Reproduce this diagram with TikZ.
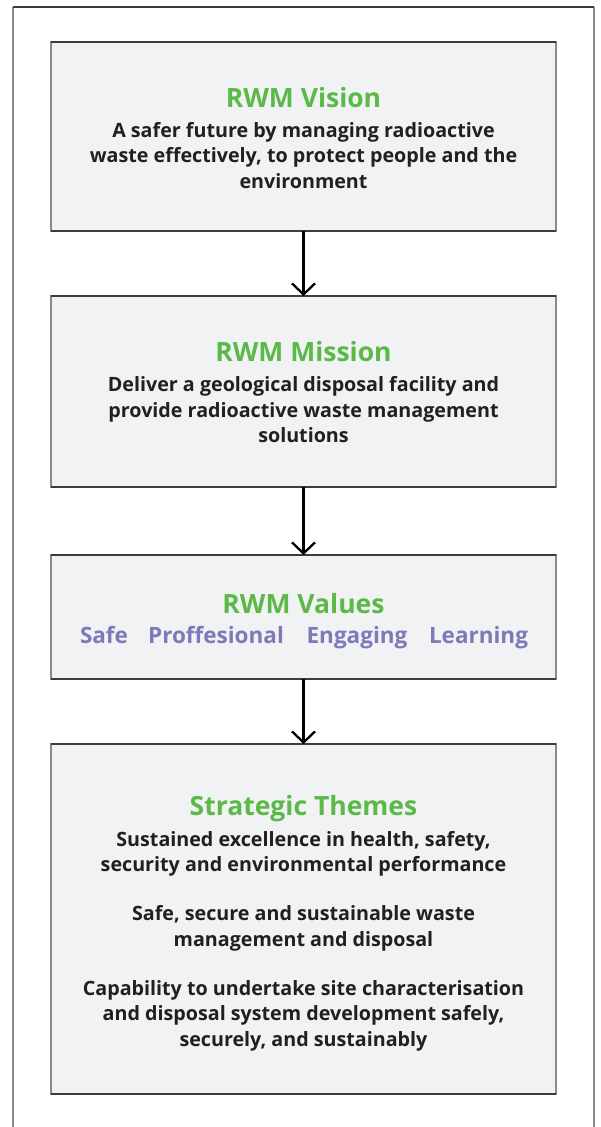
\documentclass[tikz,border=0pt]{standalone}
\usepackage{fontspec}
\setmainfont{Open Sans}
\usetikzlibrary{arrows.meta}
\definecolor{rwmgreen}{HTML}{5BB947}
\definecolor{rwmpurple}{HTML}{7F79BA}
\definecolor{txtdark}{HTML}{231F20}
\definecolor{boxfill}{HTML}{F1F2F4}
\definecolor{sidegray}{HTML}{8A8A8A}
\definecolor{edgedark}{HTML}{3C3C3C}
\begin{document}
\begin{tikzpicture}[x=1pt,y=-1pt,
  panel/.style={fill=boxfill, draw=sidegray, line width=1.3pt, minimum width=505pt, inner sep=0pt, outer sep=0pt},
  edge/.style={draw=edgedark, line width=1.3pt},
  title/.style={font=\fontsize{26.5}{32}\selectfont\bfseries, text=rwmgreen, anchor=base, inner sep=0pt},
  body/.style={font=\fontsize{19.7}{24}\selectfont\bfseries, text=txtdark, anchor=base, inner sep=0pt},
  val/.style={font=\fontsize{22.5}{27}\selectfont\bfseries, text=rwmpurple, anchor=base, inner sep=0pt},
  flow/.style={draw=black, line width=2.3pt, -{Straight Barb[length=11pt,width=23pt,line width=2.3pt]}},
  frameside/.style={draw=sidegray, line width=2pt},
  frametop/.style={draw=edgedark, line width=1.5pt}]
\useasboundingbox (0,0) rectangle (601,1127);
% outer frame
\coordinate (fbl) at (13,1127);
\coordinate (ftl) at (13,7);
\coordinate (ftr) at (594,7);
\coordinate (fbr) at (594,1127);
\draw[frameside] (fbl) -- (ftl);
\draw[frameside] (ftr) -- (fbr);
\draw[frametop] (ftl) -- (ftr);
% panels
\node[panel, minimum height=189pt] (b1) at (303.5,136.5) {};
\node[panel, minimum height=191pt] (b2) at (303.5,391.5) {};
\node[panel, minimum height=124pt] (b3) at (303.5,617) {};
\node[panel, minimum height=350pt] (b4) at (303.5,919) {};
\foreach \b in {b1,b2,b3,b4}{
  \draw[edge] (\b.north west) -- (\b.north east);
  \draw[edge] (\b.south west) -- (\b.south east);
}
% arrows
\draw[flow] (b1.south) -- (b2.north);
\draw[flow] (b2.south) -- (b3.north);
\draw[flow] (b3.south) -- (b4.north);
% box 1
\node[title] (t1) at (303.5,107) {RWM Vision};
\node[body] (v1) at (303.5,137) {A safer future by managing radioactive};
\node[body] (v2) at (303.5,162.5) {waste effectively, to protect people and the};
\node[body] (v3) at (303.5,188) {environment};
% box 2
\node[title] (t2) at (303.5,361) {RWM Mission};
\node[body] (m1) at (303.5,391.5) {Deliver a geological disposal facility and};
\node[body] (m2) at (303.5,417) {provide radioactive waste management};
\node[body] (m3) at (303.5,442.5) {solutions};
% box 3
\node[title] (t3) at (303.5,613) {RWM Values};
\node[val] (w1) at (104,643) {Safe};
\node[val] (w2) at (216,643) {Proffesional};
\node[val] (w3) at (357,643) {Engaging};
\node[val] (w4) at (478.5,643) {Learning};
% box 4
\node[title] (t4) at (303.5,815) {Strategic Themes};
\node[body] (s1) at (303.5,846) {Sustained excellence in health, safety,};
\node[body] (s2) at (303.5,871.5) {security and environmental performance};
\node[body] (s3) at (303.5,920.5) {Safe, secure and sustainable waste};
\node[body] (s4) at (303.5,946) {management and disposal};
\node[body] (s5) at (303.5,995) {Capability to undertake site characterisation};
\node[body] (s6) at (303.5,1020.5) {and disposal system development safely,};
\node[body] (s7) at (303.5,1046) {securely, and sustainably};
\end{tikzpicture}
\end{document}
